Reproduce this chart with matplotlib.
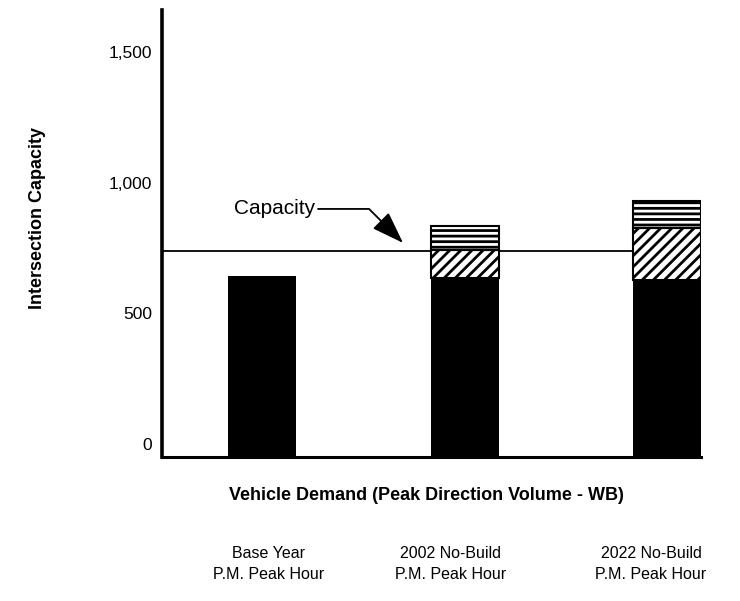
import matplotlib
matplotlib.use("Agg")
import matplotlib.pyplot as plt
from matplotlib.transforms import ScaledTranslation

plt.rcParams['font.family'] = ['Liberation Sans', 'DejaVu Sans']
plt.rcParams['hatch.linewidth'] = 2.0

# data
categories = ["Base Year\nP.M. Peak Hour", "2002 No-Build\nP.M. Peak Hour", "2022 No-Build\nP.M. Peak Hour"]
base_demand = [693, 686, 678]
hatched_part = [0, 107, 199]
lined_part = [0, 92, 104]
capacity = 790
yticks = [0, 500, 1000, 1500]
ytick_labels = ["0", "500", "1,000", "1,500"]

fig = plt.figure(figsize=(7.4, 6.01), dpi=100)
ax = fig.add_axes([0.219, 0.2396, 0.7284, 0.7438])

x = list(range(len(categories)))
w = 0.336

# capacity line sits behind the bars
ax.axhline(capacity, color="black", lw=1.3, zorder=1)

ax.bar(x, base_demand, width=w, color="black", zorder=3)
tops = [b + h for b, h in zip(base_demand, hatched_part)]
for i in x:
    if hatched_part[i] > 0:
        ax.bar(i, hatched_part[i], width=w, bottom=base_demand[i], facecolor="white",
               edgecolor="black", hatch="///", lw=1.5, zorder=3)
        ax.bar(i, lined_part[i], width=w, bottom=tops[i], facecolor="white",
               edgecolor="black", hatch="---", lw=1.5, zorder=3)

ax.annotate("Capacity", xy=(0.696, 820), xytext=(-0.138, 950),
            fontsize=15, ha="left", va="center",
            arrowprops=dict(arrowstyle="-|>,head_length=1.0,head_width=0.35",
                            connectionstyle="angle,angleA=0,angleB=135,rad=0",
                            color="black", lw=1.3, mutation_scale=20,
                            shrinkA=0, shrinkB=0))

ax.set_xlim(-0.494, 2.168)
ax.set_ylim(0, 1712)

ax.spines['top'].set_visible(False)
ax.spines['right'].set_visible(False)
ax.spines['left'].set_linewidth(2.6)
ax.spines['bottom'].set_linewidth(2.2)

ax.set_yticks(yticks, ytick_labels, fontsize=12.5)
ax.tick_params(axis="y", length=0, pad=7)
for lab in ax.get_yticklabels():
    lab.set_transform(lab.get_transform() + ScaledTranslation(0, 0.13, fig.dpi_scale_trans))

ax.set_xticks(x, categories, fontsize=11.5)
ax.tick_params(axis="x", length=0, pad=64)
shifts = [0.06, -0.14, -0.16]
for lab, s in zip(ax.get_xticklabels(), shifts):
    lab.set_linespacing(1.55)
    lab.set_transform(lab.get_transform() + ScaledTranslation(s, 0, fig.dpi_scale_trans))

fig.text(426 / 740, 1 - 495 / 601, "Vehicle Demand (Peak Direction Volume - WB)",
         fontsize=13, fontweight="bold", ha="center", va="center")
fig.text(38 / 740, 1 - 218 / 601, "Intersection Capacity", rotation=90,
         fontsize=13, fontweight="bold", ha="center", va="center")

fig.savefig("out.png", dpi=100)
